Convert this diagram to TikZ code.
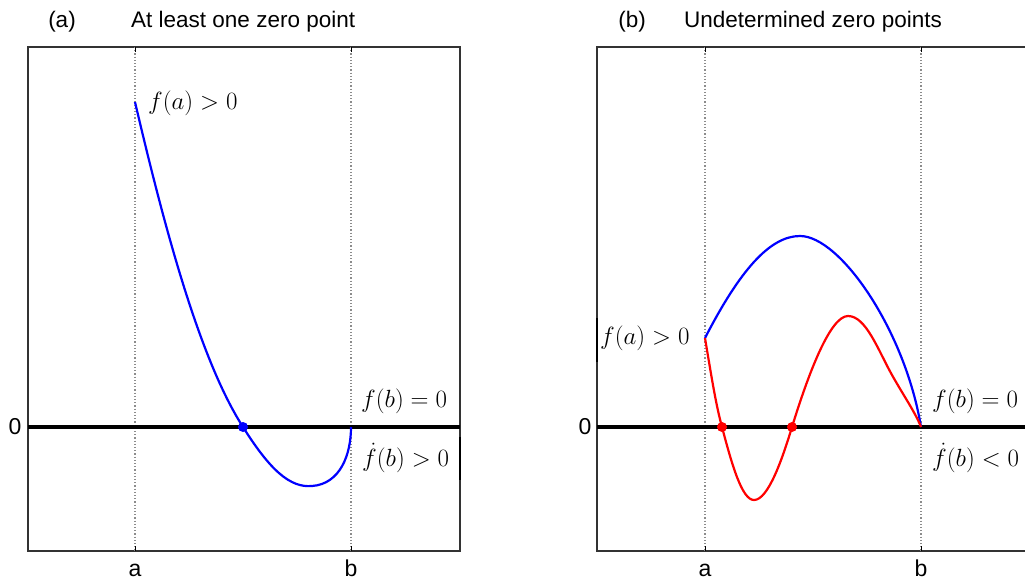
\documentclass[tikz,border=0pt]{standalone}
\usepackage{fontspec}
\setmainfont{Liberation Sans}
\begin{document}
\begin{tikzpicture}[x=1pt,y=-1pt,
      frame/.style={draw=black!80, line width=1.4pt},
      axis/.style={black, line width=3.4pt},
      guide/.style={black!45, dotted, line width=1.2pt},
      curve/.style={line width=2.2pt, line join=round},
      zero/.style={circle, inner sep=0pt, minimum size=10pt},
      title/.style={font=\fontsize{22.5}{26}\selectfont, inner sep=0pt},
      tick/.style={font=\fontsize{23}{27}\selectfont, inner sep=0pt},
      cond/.style={font=\fontsize{24}{28}\selectfont, inner sep=0pt, anchor=west}
  ]
  \useasboundingbox (0,0) rectangle (1025,579);
  \clip (0,0) rectangle (1025,579);

  % Panel (a)
  \draw[frame] (28,47) rectangle (460,551);
  \draw[guide] (135,47) -- (135,551);
  \draw[guide] (351,47) -- (351,551);
  \foreach \x in {135,351} {
    \draw[black, line width=0.8pt] (\x,47) -- (\x,52);
    \draw[black, line width=0.8pt] (\x,551) -- (\x,546);
  }
  \draw[axis] (28,427) -- (460,427);
  \draw[black, line width=2pt] (460,437) -- (460,480);

  \node[title] (labA) at (62,22) {(a)};
  \node[title, anchor=west] (titleA) at (131,22) {At least one zero point};
  \node[tick] (zeroA) at (15,427) {0};
  \node[tick, anchor=base] (aA) at (135,576) {a};
  \node[tick, anchor=base] (bA) at (351,576) {b};

  \draw[curve, blue] (135,102) .. controls (165,230) and (200,360) .. (243,427)
      .. controls (270,470) and (290,488) .. (312,486)
      .. controls (340,484) and (351,455) .. (351,427);
  \node[zero, fill=blue] (rootA) at (243,427) {};

  \node[cond] (faA) at (148,103) {$f(a)>0$};
  \node[cond] (fbA) at (361,401) {$f(b)=0$};
  \node[cond] (dfbA) at (362,458) {$\dot{f}(b)>0$};

  % Panel (b)
  \draw[frame] (597,47) rectangle (1030,551);
  \draw[guide] (705,47) -- (705,551);
  \draw[guide] (921,47) -- (921,551);
  \foreach \x in {705,921} {
    \draw[black, line width=0.8pt] (\x,47) -- (\x,52);
    \draw[black, line width=0.8pt] (\x,551) -- (\x,546);
  }
  \draw[axis] (597,427) -- (1030,427);
  \draw[black, line width=2pt] (597,318) -- (597,362);

  \node[title] (labB) at (632,22) {(b)};
  \node[title, anchor=west] (titleB) at (684,22) {Undetermined zero points};
  \node[tick] (zeroB) at (585,427) {0};
  \node[tick, anchor=base] (aB) at (705,576) {a};
  \node[tick, anchor=base] (bB) at (921,576) {b};

  \draw[curve, blue] (705,338) .. controls (740,270) and (770,236) .. (800,236)
      .. controls (840,236) and (905,330) .. (921,427);
  \draw[curve, red] (705,338) .. controls (712,380) and (716,405) .. (722,427)
      .. controls (732,465) and (742,500) .. (754,500)
      .. controls (768,500) and (782,460) .. (792,427)
      .. controls (808,375) and (830,316) .. (848,316)
      .. controls (866,316) and (878,350) .. (892,375)
      .. controls (905,398) and (915,412) .. (921,427);
  \node[zero, fill=red] (rootB1) at (722,427) {};
  \node[zero, fill=red] (rootB2) at (792,427) {};

  \node[cond] (faB) at (600,338) {$f(a)>0$};
  \node[cond] (fbB) at (932,401) {$f(b)=0$};
  \node[cond] (dfbB) at (932,458) {$\dot{f}(b)<0$};

\end{tikzpicture}
\end{document}
